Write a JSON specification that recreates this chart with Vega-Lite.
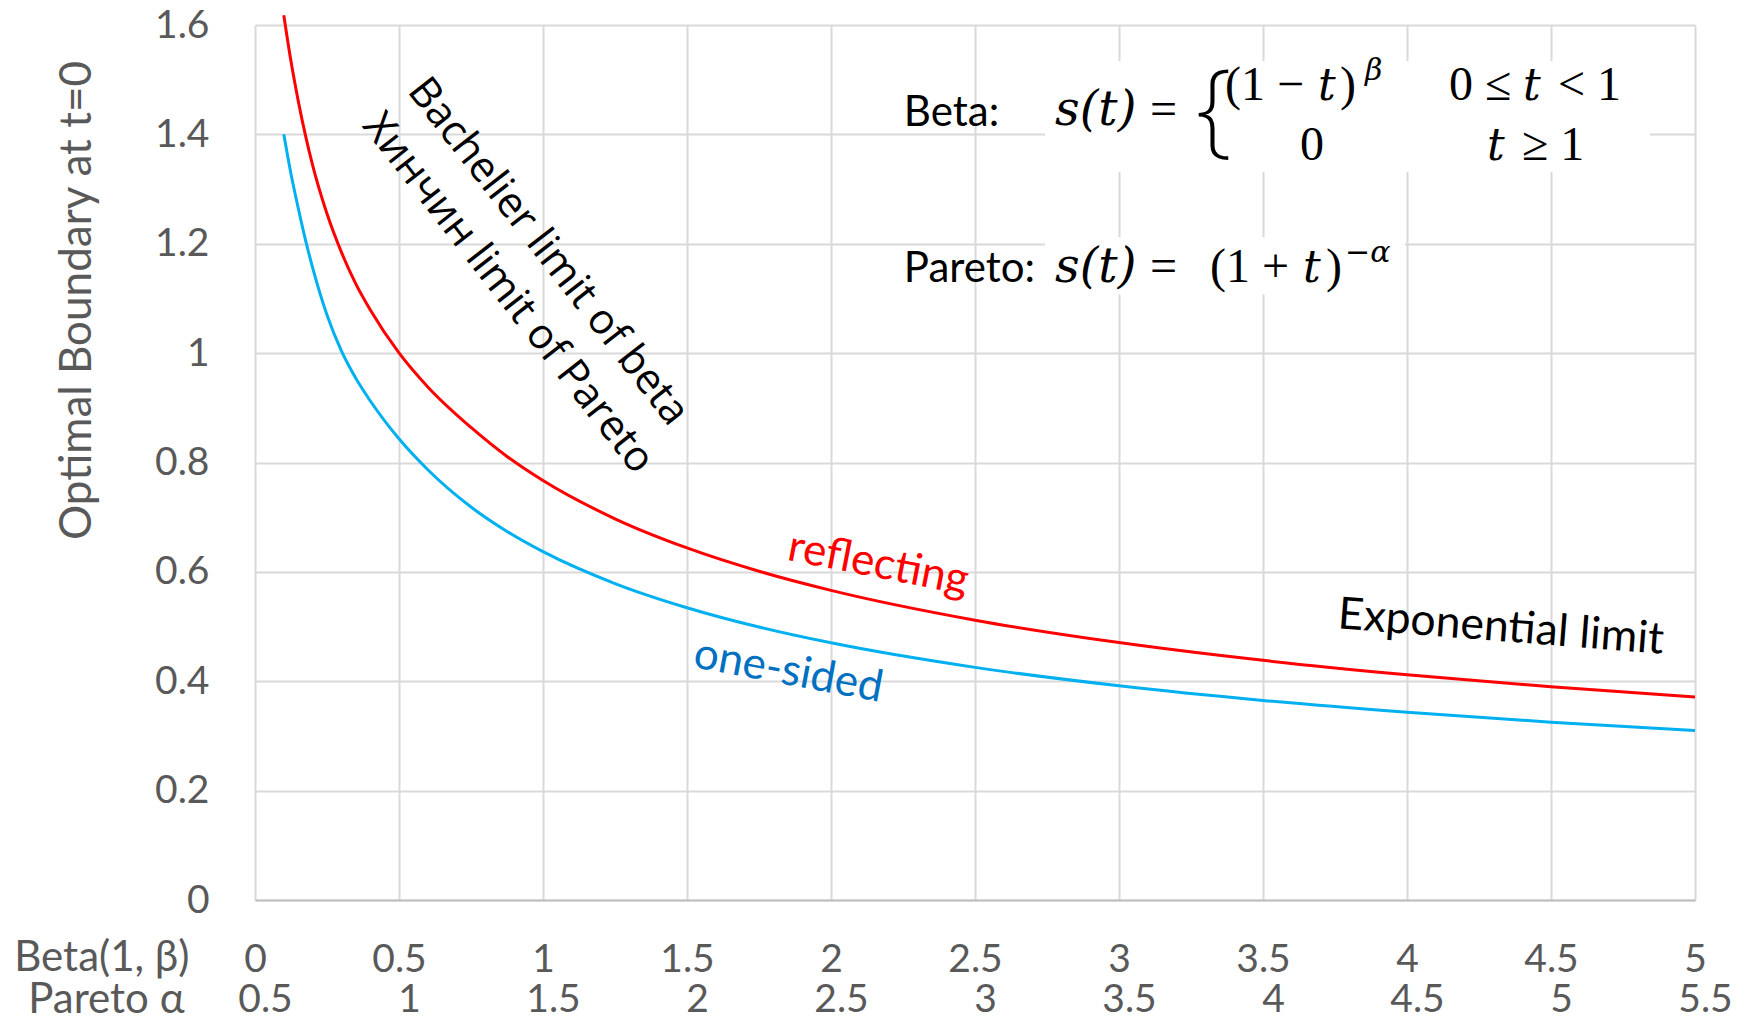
{
  "$schema": "https://vega.github.io/schema/vega-lite/v6.json",
  "width": 1440,
  "height": 875,
  "autosize": {"type": "none"},
  "padding": {"left": 255, "top": 25, "right": 50, "bottom": 119},
  "background": "#ffffff",
  "config": {"view": {"stroke": null}, "font": "Lato"},
  "datasets": {
    "curves": [
      {"x": 0.1, "y": 1.618, "series": "reflecting"},
      {"x": 0.125, "y": 1.5335, "series": "reflecting"},
      {"x": 0.15, "y": 1.4616, "series": "reflecting"},
      {"x": 0.175, "y": 1.3985, "series": "reflecting"},
      {"x": 0.2, "y": 1.3436, "series": "reflecting"},
      {"x": 0.25, "y": 1.2547, "series": "reflecting"},
      {"x": 0.3, "y": 1.1846, "series": "reflecting"},
      {"x": 0.35, "y": 1.1267, "series": "reflecting"},
      {"x": 0.4, "y": 1.0794, "series": "reflecting"},
      {"x": 0.5, "y": 1.0004, "series": "reflecting"},
      {"x": 0.6, "y": 0.9382, "series": "reflecting"},
      {"x": 0.75, "y": 0.8641, "series": "reflecting"},
      {"x": 0.875, "y": 0.8111, "series": "reflecting"},
      {"x": 1.0, "y": 0.767, "series": "reflecting"},
      {"x": 1.25, "y": 0.6971, "series": "reflecting"},
      {"x": 1.5, "y": 0.6438, "series": "reflecting"},
      {"x": 1.75, "y": 0.6012, "series": "reflecting"},
      {"x": 2.0, "y": 0.5662, "series": "reflecting"},
      {"x": 2.5, "y": 0.5117, "series": "reflecting"},
      {"x": 3.0, "y": 0.4707, "series": "reflecting"},
      {"x": 3.5, "y": 0.4382, "series": "reflecting"},
      {"x": 4.0, "y": 0.4119, "series": "reflecting"},
      {"x": 4.5, "y": 0.3898, "series": "reflecting"},
      {"x": 5.0, "y": 0.371, "series": "reflecting"},
      {"x": 0.1, "y": 1.4002, "series": "one-sided"},
      {"x": 0.125, "y": 1.3275, "series": "one-sided"},
      {"x": 0.15, "y": 1.2654, "series": "one-sided"},
      {"x": 0.175, "y": 1.2076, "series": "one-sided"},
      {"x": 0.2, "y": 1.1563, "series": "one-sided"},
      {"x": 0.25, "y": 1.0697, "series": "one-sided"},
      {"x": 0.3, "y": 1.004, "series": "one-sided"},
      {"x": 0.35, "y": 0.954, "series": "one-sided"},
      {"x": 0.4, "y": 0.9129, "series": "one-sided"},
      {"x": 0.5, "y": 0.8433, "series": "one-sided"},
      {"x": 0.6, "y": 0.7868, "series": "one-sided"},
      {"x": 0.75, "y": 0.7187, "series": "one-sided"},
      {"x": 0.875, "y": 0.674, "series": "one-sided"},
      {"x": 1.0, "y": 0.637, "series": "one-sided"},
      {"x": 1.25, "y": 0.5787, "series": "one-sided"},
      {"x": 1.5, "y": 0.5345, "series": "one-sided"},
      {"x": 1.75, "y": 0.4992, "series": "one-sided"},
      {"x": 2.0, "y": 0.4703, "series": "one-sided"},
      {"x": 2.5, "y": 0.4254, "series": "one-sided"},
      {"x": 3.0, "y": 0.3917, "series": "one-sided"},
      {"x": 3.5, "y": 0.365, "series": "one-sided"},
      {"x": 4.0, "y": 0.3434, "series": "one-sided"},
      {"x": 4.5, "y": 0.3252, "series": "one-sided"},
      {"x": 5.0, "y": 0.3098, "series": "one-sided"}
    ],
    "boxes": [
      {"x": 2.743, "x2": 4.844, "y": 1.331, "y2": 1.534},
      {"x": 2.743, "x2": 3.993, "y": 1.1075, "y2": 1.2121}
    ],
    "limits": [
      {"x": 0.526, "y": 1.479, "label": "Bachelier limit of beta"},
      {"x": 0.37, "y": 1.415, "label": "Хинчин limit of Pareto"}
    ],
    "reflect": [{"x": 1.844, "y": 0.622, "label": "reflecting"}],
    "onesided": [{"x": 1.517, "y": 0.426, "label": "one-sided"}],
    "expo": [{"x": 3.757, "y": 0.497, "label": "Exponential limit"}],
    "names": [
      {"x": 2.253, "y": 1.415, "label": "Beta:"},
      {"x": 2.253, "y": 1.13, "label": "Pareto:"}
    ],
    "upright": [
      {"x": 3.1076, "y": 1.4171, "label": "="},
      {"x": 3.1076, "y": 1.13, "label": "="},
      {"x": 3.3681, "y": 1.4628, "label": "(1 − "},
      {"x": 3.7674, "y": 1.4628, "label": ")"},
      {"x": 4.1458, "y": 1.4628, "label": "0 ≤ "},
      {"x": 4.524, "y": 1.4628, "label": "< 1"},
      {"x": 3.6285, "y": 1.3531, "label": "0"},
      {"x": 4.3993, "y": 1.3531, "label": "≥ 1"},
      {"x": 3.316, "y": 1.13, "label": "(1 + "},
      {"x": 3.719, "y": 1.13, "label": ")"}
    ],
    "italic": [
      {"x": 2.7778, "y": 1.4171, "label": "s(t)"},
      {"x": 2.7778, "y": 1.13, "label": "s(t)"}
    ],
    "italict": [
      {"x": 3.691, "y": 1.4628, "label": "t"},
      {"x": 4.4028, "y": 1.4628, "label": "t"},
      {"x": 4.2778, "y": 1.3531, "label": "t"},
      {"x": 3.639, "y": 1.13, "label": "t"}
    ],
    "sup": [
      {"x": 3.8542, "y": 1.4994, "label": "β"},
      {"x": 3.785, "y": 1.1666, "label": "−α"}
    ],
    "brace": [{"x": 3.2674, "y": 1.3823, "label": "{"}]
  },
  "encoding": {
    "x": {"field": "x", "type": "quantitative", "scale": {"domain": [0, 5], "nice": false, "zero": false}, "axis": null},
    "y": {
      "field": "y", "type": "quantitative",
      "scale": {"domain": [0, 1.6], "nice": false},
      "axis": {
        "values": [0, 0.2, 0.4, 0.6, 0.8, 1, 1.2, 1.4, 1.6],
        "format": ".1~f",
        "grid": true, "gridColor": "#d9d9d9", "gridWidth": 2,
        "ticks": false, "domain": false,
        "labelFont": "Lato", "labelFontSize": 39, "labelColor": "#595959",
        "labelPadding": 46, "labelBaseline": "middle",
        "title": "Optimal Boundary at t=0", "titleFont": "Lato", "titleFontSize": 44,
        "titleFontWeight": "normal", "titleColor": "#595959",
        "titleX": -165, "titleY": 275, "titleAngle": -90, "titleAlign": "center",
        "titleBaseline": "alphabetic"
      }
    }
  },
  "layer": [
    {
      "data": {"name": "boxes"},
      "mark": {"type": "rect", "color": "#ffffff", "strokeWidth": 0},
      "encoding": {
        "x2": {"field": "x2"},
        "y2": {"field": "y2"}
      }
    },
    {
      "data": {"name": "curves"},
      "mark": {"type": "line", "strokeWidth": 3, "interpolate": "monotone"},
      "encoding": {
        "x": {
          "field": "x", "type": "quantitative",
          "scale": {"domain": [0, 5], "nice": false, "zero": false},
          "axis": {
            "orient": "bottom",
            "values": [0, 0.5, 1, 1.5, 2, 2.5, 3, 3.5, 4, 4.5, 5],
            "format": ".1~f",
            "grid": true, "gridColor": "#d9d9d9", "gridWidth": 2,
            "ticks": false,
            "domain": true, "domainColor": "#bfbfbf", "domainWidth": 2,
            "labelFont": "Lato", "labelFontSize": 39, "labelColor": "#595959",
            "labelPadding": 59, "labelBaseline": "middle",
            "labelFlush": false, "labelOverlap": false, "labelBound": false,
            "title": "Beta(1, β)", "titleFont": "Lato", "titleFontSize": 42, "titleFontWeight": "normal",
            "titleColor": "#595959", "titleX": -66, "titleY": 57, "titleAlign": "right",
            "titleBaseline": "middle", "titleAngle": 0
          }
        },
        "color": {
          "field": "series", "type": "nominal",
          "scale": {"domain": ["reflecting", "one-sided"], "range": ["#ff0000", "#00b0f0"]},
          "legend": null
        }
      }
    },
    {
      "data": {"name": "limits"},
      "mark": {"type": "text", "align": "left", "baseline": "alphabetic", "angle": 52, "font": "Open Sans", "fontSize": 42, "color": "#000000"},
      "encoding": {"text": {"field": "label"}}
    },
    {
      "data": {"name": "reflect"},
      "mark": {"type": "text", "align": "left", "baseline": "alphabetic", "angle": 11, "font": "Lato", "fontSize": 44, "color": "#ff0000"},
      "encoding": {"text": {"field": "label"}}
    },
    {
      "data": {"name": "onesided"},
      "mark": {"type": "text", "align": "left", "baseline": "alphabetic", "angle": 10.5, "font": "Lato", "fontSize": 44, "color": "#0070c0"},
      "encoding": {"text": {"field": "label"}}
    },
    {
      "data": {"name": "expo"},
      "mark": {"type": "text", "align": "left", "baseline": "alphabetic", "angle": 4.5, "font": "Lato", "fontSize": 44.5, "color": "#000000"},
      "encoding": {
        "text": {"field": "label"},
        "x": {
          "field": "x", "type": "quantitative",
          "scale": {"domain": [0, 5], "nice": false, "zero": false},
          "axis": {
            "orient": "bottom",
            "values": [0, 0.5, 1, 1.5, 2, 2.5, 3, 3.5, 4, 4.5, 5],
            "labelExpr": "format(datum.value + 0.5, '.1~f')",
            "grid": false, "ticks": false, "domain": false,
            "labelFont": "Lato", "labelFontSize": 39, "labelColor": "#595959",
            "labelPadding": 99, "labelBaseline": "middle", "labelOffset": 10,
            "labelFlush": false, "labelOverlap": false, "labelBound": false,
            "title": "Pareto α", "titleFont": "Lato", "titleFontSize": 42, "titleFontWeight": "normal",
            "titleColor": "#595959", "titleX": -71, "titleY": 99, "titleAlign": "right",
            "titleBaseline": "middle", "titleAngle": 0
          }
        }
      }
    },
    {
      "data": {"name": "names"},
      "mark": {"type": "text", "align": "left", "baseline": "alphabetic", "font": "Lato", "fontSize": 42, "color": "#000000"},
      "encoding": {"text": {"field": "label"}}
    },
    {
      "data": {"name": "upright"},
      "mark": {"type": "text", "align": "left", "baseline": "alphabetic", "font": "Liberation Serif", "fontSize": 48, "color": "#000000"},
      "encoding": {"text": {"field": "label"}}
    },
    {
      "data": {"name": "italic"},
      "mark": {"type": "text", "align": "left", "baseline": "alphabetic", "font": "DejaVu Serif", "fontStyle": "italic", "fontSize": 48, "color": "#000000"},
      "encoding": {"text": {"field": "label"}}
    },
    {
      "data": {"name": "italict"},
      "mark": {"type": "text", "align": "left", "baseline": "alphabetic", "font": "DejaVu Serif", "fontStyle": "italic", "fontSize": 44, "color": "#000000"},
      "encoding": {"text": {"field": "label"}}
    },
    {
      "data": {"name": "sup"},
      "mark": {"type": "text", "align": "left", "baseline": "alphabetic", "font": "DejaVu Serif", "fontStyle": "italic", "fontSize": 30, "color": "#000000"},
      "encoding": {"text": {"field": "label"}}
    },
    {
      "data": {"name": "brace"},
      "mark": {"type": "text", "align": "left", "baseline": "alphabetic", "font": "Noto Sans", "fontWeight": 200, "fontSize": 104, "color": "#000000"},
      "encoding": {"text": {"field": "label"}}
    }
  ],
  "resolve": {"axis": {"x": "independent"}}
}
